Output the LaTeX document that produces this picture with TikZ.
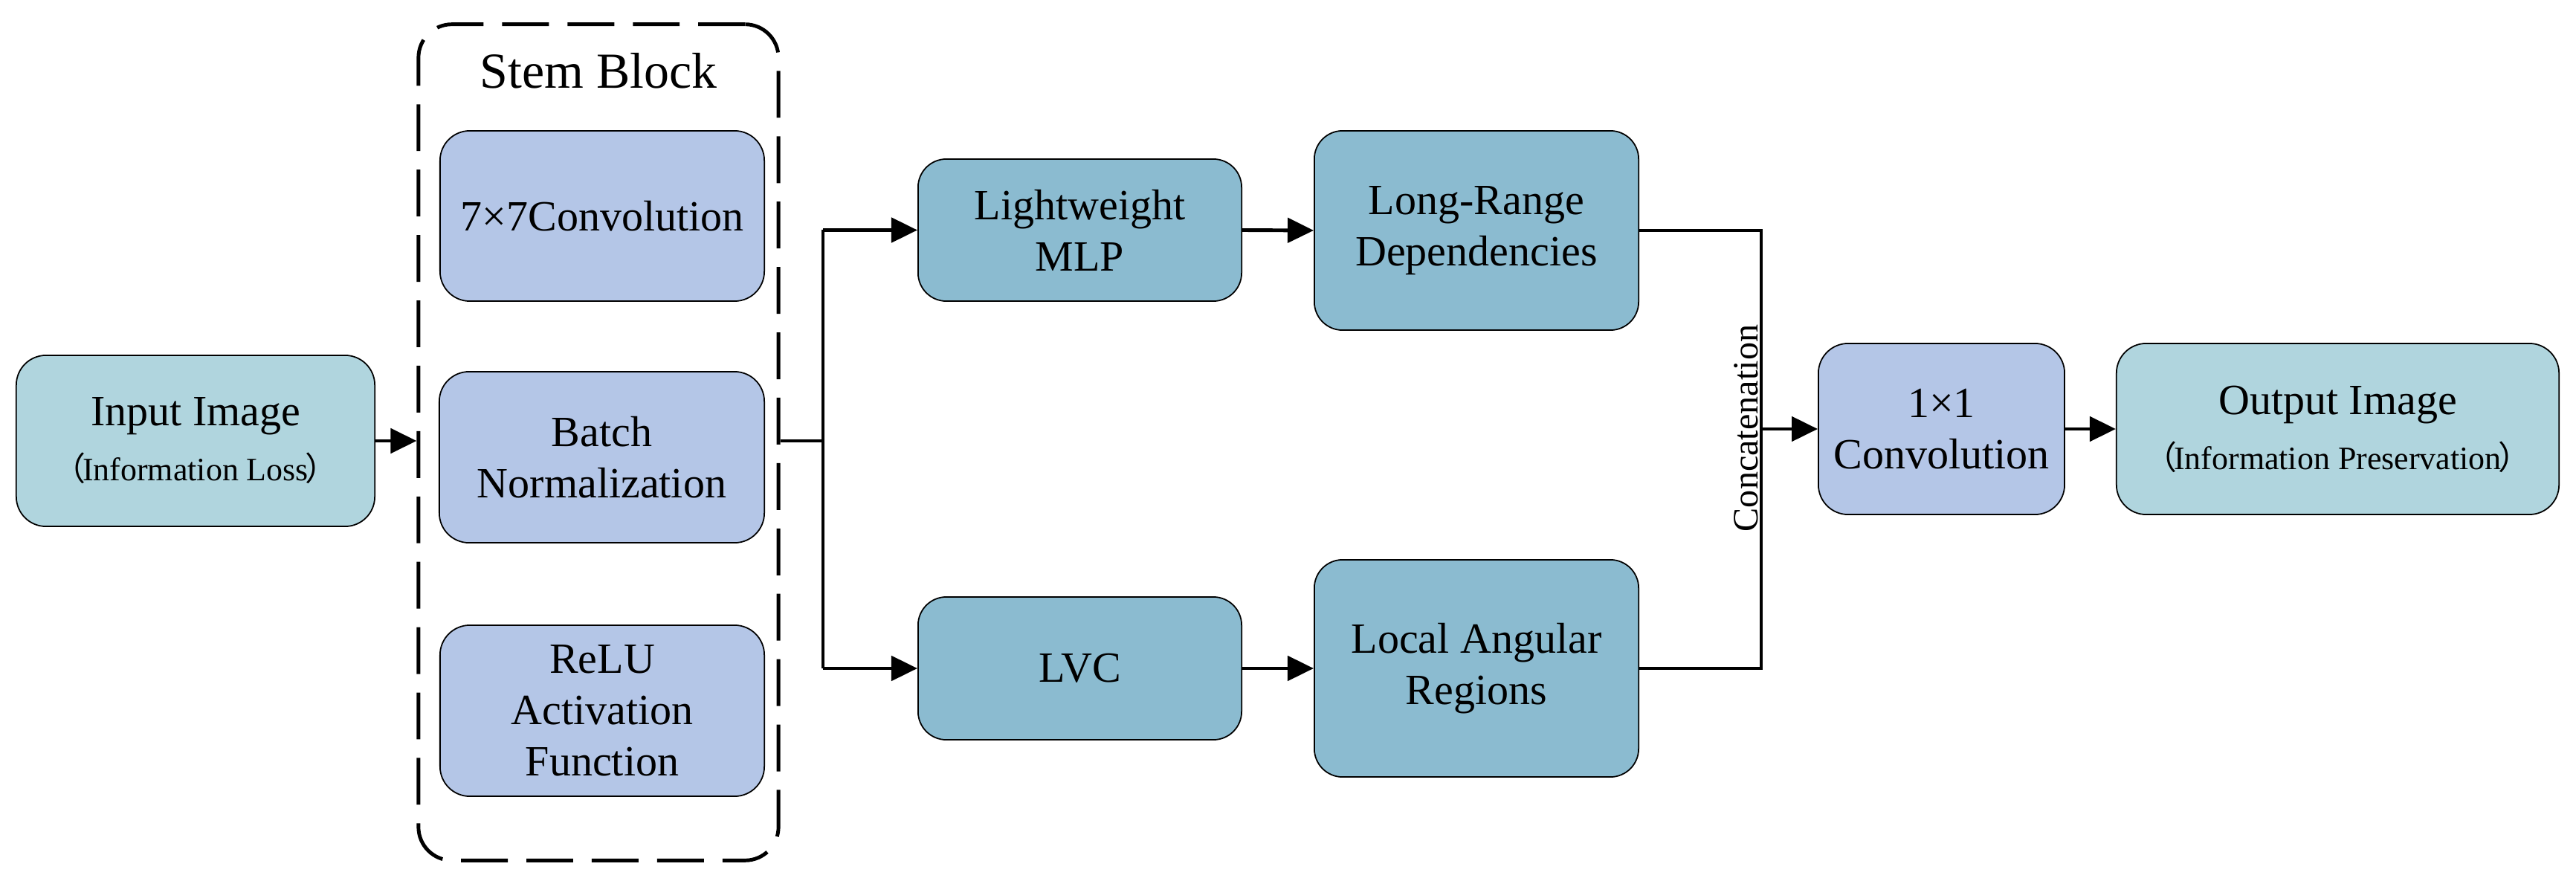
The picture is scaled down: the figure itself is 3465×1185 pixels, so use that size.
\documentclass[tikz,border=0pt]{standalone}
\usepackage{fontspec}
\setmainfont{Liberation Serif}
\newfontfamily\cjk{Noto Sans CJK SC}
\usetikzlibrary{arrows.meta}
\definecolor{inblue}{HTML}{B0D5DE}
\definecolor{lav}{HTML}{B4C6E7}
\definecolor{midblue}{HTML}{8BBBD0}
\newcommand{\smallfnt}{\fontsize{12.5}{15}\selectfont}
\newcommand{\lp}{{\cjk （}\kern-0.1em}
\newcommand{\rp}{\kern-0.1em{\cjk ）}}
\begin{document}
\begin{tikzpicture}[x=0.01cm,y=-0.01cm,
  box/.style={draw=black, line width=0.5pt, rounded corners=0.4cm, align=center,
    inner sep=0pt, font=\fontsize{16.5}{19.6}\selectfont},
  inbox/.style={box, fill=inblue},
  lavbox/.style={box, fill=lav},
  midbox/.style={box, fill=midblue, rounded corners=0.38cm},
  conn/.style={line width=1.4pt},
  arr/.style={conn, -{Triangle[length=0.35cm,width=0.33cm]}},
  stembox/.style={draw=black, line width=1.4pt, rounded corners=0.45cm,
    dash pattern=on 17.9pt off 7.1pt, inner sep=0pt}
]
\useasboundingbox (0,0) rectangle (3465,1185);

% Stem block frame
\node[stembox, minimum width=4.84cm, minimum height=11.24cm] (stem) at (805,595) {};
\node[font=\fontsize{19.3}{22}\selectfont, inner sep=0pt] (stemt) at (805,95) {Stem Block};

% nodes
\node[inbox, minimum width=4.82cm, minimum height=2.30cm] (in) at (263,593)
  {Input Image\\[1.5pt]{\smallfnt\lp Information Loss\rp}};
\node[lavbox, minimum width=4.36cm, minimum height=2.29cm] (c7) at (810,290.5) {7×7Convolution};
\node[lavbox, minimum width=4.37cm, minimum height=2.30cm] (bn) at (809.5,615) {Batch\\Normalization};
\node[lavbox, minimum width=4.36cm, minimum height=2.30cm] (relu) at (810,956) {ReLU\\Activation\\Function};

\node[midbox, minimum width=4.35cm, minimum height=1.91cm] (mlp) at (1452.5,309.5) {Lightweight\\MLP};
\node[midbox, minimum width=4.36cm, minimum height=2.68cm] (lrd) at (1986,310) {Long-Range\\Dependencies};
\node[midbox, minimum width=4.35cm, minimum height=1.92cm] (lvc) at (1452.5,899) {LVC};
\node[midbox, minimum width=4.36cm, minimum height=2.92cm] (lar) at (1986,899) {Local Angular\\Regions};

\node[lavbox, minimum width=3.31cm, minimum height=2.30cm] (c1) at (2611.5,577) {1×1\\Convolution};
\node[inbox, minimum width=5.95cm, minimum height=2.30cm] (out) at (3144.5,577)
  {Output Image\\[1.5pt]{\smallfnt\lp Information Preservation\rp}};

% junction coordinates
\coordinate (j) at (1107,593);
\coordinate (jt) at (1107,309.5);
\coordinate (jb) at (1107,899);
\coordinate (ct) at (2369,310);
\coordinate (cb) at (2369,899);
\coordinate (cm) at (2369,577);

% connectors
\draw[arr] (in.east) -- (in.east -| stem.west);
\draw[conn] (in.east -| stem.east) -- (j);
\draw[conn] (jt) -- (jb);
\draw[arr] (jt) -- (mlp.west);
\draw[arr] (jb) -- (lvc.west);
\draw[arr] (mlp.east) -- (lrd.west);
\draw[arr] (lvc.east) -- (lar.west);
\draw[conn] (lrd.east) -- (ct) -- (cb) -- (lar.east);
\draw[arr] (cm) -- (c1.west);
\draw[arr] (c1.east) -- (out.west);

\node[rotate=90, inner sep=0pt, font=\fontsize{13.7}{16}\selectfont] (concat) at (2349,576) {Concatenation};
\end{tikzpicture}
\end{document}
